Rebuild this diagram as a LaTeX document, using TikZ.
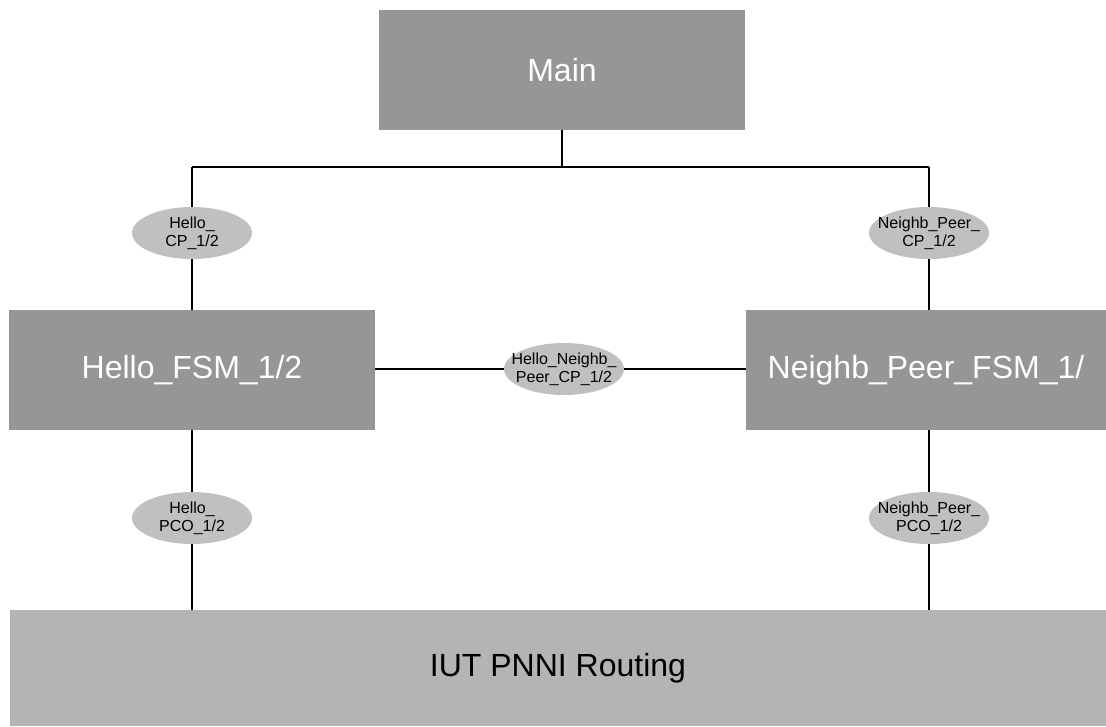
\documentclass[tikz,border=0pt]{standalone}
\usepackage{fontspec}
\setmainfont{Liberation Sans}
\usetikzlibrary{shapes.geometric}
\definecolor{boxdark}{RGB}{150,150,150}
\definecolor{boxlight}{RGB}{180,180,180}
\definecolor{portfill}{RGB}{192,192,192}
\tikzset{
  module/.style={rectangle, fill=boxdark, text=white, inner sep=0pt,
    font=\fontsize{32}{38}\selectfont},
  base/.style={rectangle, fill=boxlight, text=black, inner sep=0pt,
    font=\fontsize{32}{38}\selectfont},
  % fixed-size ellipse; its text is set as a centred label so it may fill the shape
  port/.style={ellipse, fill=portfill, inner sep=0pt, minimum width=120pt,
    minimum height=52pt,
    label={[align=center, inner sep=0pt, font=\fontsize{16}{18}\selectfont]center:#1}},
  link/.style={draw=black, line width=1.6pt}
}
\begin{document}
\begin{tikzpicture}[x=1pt, y=-1pt]
  \useasboundingbox (0,0) rectangle (1106,726);

  % components
  \node[module, minimum width=366pt, minimum height=120pt] (main) at (562,70) {Main};
  \node[module, minimum width=366pt, minimum height=120pt] (hfsm) at (192,370) {Hello\_FSM\_1/2};
  \node[module, minimum width=360pt, minimum height=120pt] (nfsm) at (926,370) {Neighb\_Peer\_FSM\_1/};
  \node[base, minimum width=1096pt, minimum height=116pt] (iut) at (558,668) {IUT PNNI Routing};

  % communication points
  \node[port={Hello\_\\CP\_1/2}]                (hcp)  at (192,233) {};
  \node[port={Neighb\_Peer\_\\CP\_1/2}]         (ncp)  at (929,233) {};
  \node[port={Hello\_Neighb\_\\Peer\_CP\_1/2}]  (hncp) at (564,369) {};
  \node[port={Hello\_\\PCO\_1/2}]               (hpco) at (192,518) {};
  \node[port={Neighb\_Peer\_\\PCO\_1/2}]        (npco) at (929,518) {};

  % junctions of the top bus
  \coordinate (jm) at (562,167);
  \coordinate (jl) at (192,167);
  \coordinate (jr) at (929,167);

  % connectors
  \draw[link] (main.south) -- (jm);
  \draw[link] (jl) -- (jr);
  \draw[link] (jl) -- (hcp.north);
  \draw[link] (jr) -- (ncp.north);
  \draw[link] (hcp.south) -- (hfsm.north);
  \draw[link] (ncp.south) -- (ncp.south |- nfsm.north);
  \draw[link] (hfsm.east |- hncp.west) -- (hncp.west);
  \draw[link] (hncp.east) -- (nfsm.west |- hncp.east);
  \draw[link] (hfsm.south) -- (hpco.north);
  \draw[link] (npco.north |- nfsm.south) -- (npco.north);
  \draw[link] (hpco.south) -- (hpco.south |- iut.north);
  \draw[link] (npco.south) -- (npco.south |- iut.north);
\end{tikzpicture}
\end{document}
